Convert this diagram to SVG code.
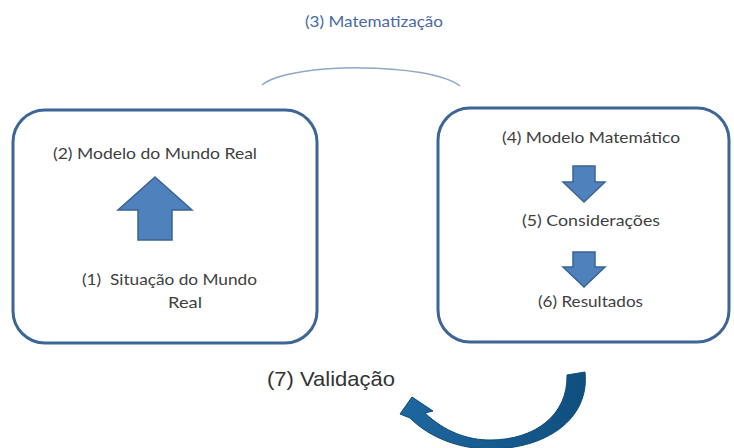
<svg xmlns="http://www.w3.org/2000/svg" width="734" height="448" viewBox="0 0 734 448">
<defs>
<style>
.box{fill:#ffffff;stroke:#3d6596;stroke-width:3}
.blk{fill:#4f81bd;stroke:#3a6392;stroke-width:1.5}
.lbl{font-family:Lato,"Open Sans","Liberation Sans",sans-serif;font-size:15px;fill:#3f3f3f}
</style>
<linearGradient id="cg" x1="0" y1="0" x2="1" y2="0">
<stop offset="0" stop-color="#1f67a0"/>
<stop offset="1" stop-color="#0f4f7e"/>
</linearGradient>
</defs>
<rect width="734" height="448" fill="#ffffff"/>
<g id="connectors">
<path id="matematizacao-arc" d="M 262 85 C 290 62 430 62 460 86" fill="none" stroke="#8ea8c8" stroke-width="1.5"/>
<path id="validacao-arrow" d="M 585 372 C 590 420 545 449 490 449 C 460 449 430 438 410 418 L 400 414 L 412 397 L 433 411 L 425 413 C 445 432 468 440 490 440 C 535 440 568 415 567 375 Z" fill="url(#cg)" stroke="#0f4a78" stroke-width="1"/>
</g>
<text x="305" y="27" style="font-family:Lato,'Open Sans','Liberation Sans',sans-serif;font-size:15px;fill:#4a6aa2" textLength="138" lengthAdjust="spacingAndGlyphs">(3) Matematização</text>
<g id="real-world">
<rect class="box" x="13" y="110" width="304" height="233" rx="32" ry="32"/>
<text class="lbl" x="53" y="159" textLength="204" lengthAdjust="spacingAndGlyphs">(2) Modelo do Mundo Real</text>
<path class="blk" d="M 155 177 L 192 210 L 172 210 L 172 240 L 138 240 L 138 210 L 118 210 Z"/>
<text class="lbl" x="82" y="285" textLength="175" lengthAdjust="spacingAndGlyphs" xml:space="preserve">(1)  Situação do Mundo</text>
<text class="lbl" x="168" y="308" textLength="34" lengthAdjust="spacingAndGlyphs">Real</text>
</g>
<g id="math-world">
<rect class="box" x="438" y="108" width="291" height="234" rx="32" ry="32"/>
<text class="lbl" x="502" y="143" textLength="178" lengthAdjust="spacingAndGlyphs">(4) Modelo Matemático</text>
<path class="blk" d="M 573 166 L 595 166 L 595 182 L 605 182 L 584 202 L 563 182 L 573 182 Z"/>
<text class="lbl" x="522" y="226" textLength="138" lengthAdjust="spacingAndGlyphs">(5) Considerações</text>
<path class="blk" d="M 573 252 L 595 252 L 595 267 L 605 267 L 584 287 L 563 267 L 573 267 Z"/>
<text class="lbl" x="538" y="307" textLength="105" lengthAdjust="spacingAndGlyphs">(6) Resultados</text>
</g>
<text x="267" y="386" style="font-family:'Liberation Sans',Arial,sans-serif;font-size:21px;fill:#333333" textLength="128" lengthAdjust="spacingAndGlyphs">(7) Validação</text>
</svg>
